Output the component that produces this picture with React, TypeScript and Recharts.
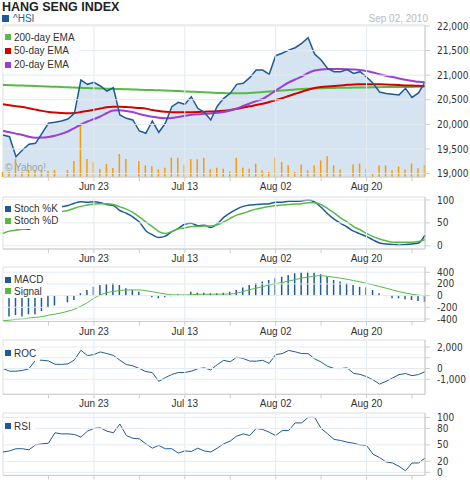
import React from 'react';
import { ComposedChart, Line, Area, Bar, XAxis, YAxis, ReferenceLine, ReferenceArea } from 'recharts';

const dates = ['Jun 03','Jun 04','Jun 07','Jun 08','Jun 09','Jun 10','Jun 11','Jun 14','Jun 15','Jun 16','Jun 17','Jun 18','Jun 21','Jun 22','Jun 23','Jun 24','Jun 25','Jun 28','Jun 29','Jun 30','Jul 01','Jul 02','Jul 05','Jul 06','Jul 07','Jul 08','Jul 09','Jul 12','Jul 13','Jul 14','Jul 15','Jul 16','Jul 19','Jul 20','Jul 21','Jul 22','Jul 23','Jul 26','Jul 27','Jul 28','Jul 29','Jul 30','Aug 02','Aug 03','Aug 04','Aug 05','Aug 06','Aug 09','Aug 10','Aug 11','Aug 12','Aug 13','Aug 16','Aug 17','Aug 18','Aug 19','Aug 20','Aug 23','Aug 24','Aug 25','Aug 26','Aug 27','Aug 30','Aug 31','Sep 01','Sep 02'];

const close = [19784, 19750, 19343, 19479, 19595, 19615, 19818, 20022, 20042, 20068,
  20109, 20225, 20902, 20814, 20855, 20780, 20678, 20745, 20190, 20123,
  20089, 19865, 19818, 20068, 19839, 20022, 20359, 20449, 20408, 20562,
  20327, 20245, 20089, 20370, 20530, 20631, 20814, 20835, 20949, 21105,
  21105, 21018, 21396, 21445, 21510, 21558, 21648, 21762, 21430, 21308,
  21136, 21071, 21071, 21115, 21034, 21071, 20963, 20835, 20658, 20629,
  20613, 20599, 20733, 20548, 20638, 20861];

const ema200 = [20800, 20796, 20792, 20788, 20784, 20780, 20774, 20770, 20764, 20760,
  20753, 20749, 20743, 20739, 20733, 20729, 20725, 20721, 20717, 20713,
  20709, 20705, 20701, 20697, 20692, 20688, 20682, 20676, 20670, 20664,
  20658, 20652, 20646, 20640, 20636, 20631, 20631, 20633, 20638, 20646,
  20656, 20666, 20676, 20688, 20699, 20709, 20719, 20725, 20731, 20735,
  20739, 20741, 20743, 20745, 20747, 20749, 20751, 20753, 20756, 20758,
  20760, 20760, 20762, 20762, 20764, 20764];

const ema50 = [20408, 20390, 20371, 20353, 20327, 20300, 20274, 20251, 20239, 20231,
  20227, 20231, 20251, 20272, 20296, 20322, 20347, 20357, 20359, 20353,
  20343, 20333, 20320, 20292, 20272, 20257, 20247, 20245, 20245, 20247,
  20251, 20257, 20261, 20265, 20276, 20292, 20316, 20343, 20367, 20394,
  20418, 20455, 20495, 20532, 20577, 20621, 20664, 20703, 20739, 20760,
  20772, 20780, 20790, 20804, 20812, 20814, 20816, 20816, 20814, 20810,
  20804, 20798, 20792, 20788, 20784, 20780];

const ema20 = [19865, 19839, 19812, 19784, 19747, 19729, 19731, 19743, 19767, 19808,
  19855, 19926, 19997, 20058, 20109, 20160, 20231, 20282, 20288, 20272,
  20251, 20211, 20180, 20154, 20133, 20123, 20129, 20150, 20174, 20194,
  20207, 20215, 20223, 20235, 20251, 20282, 20322, 20373, 20424, 20475,
  20516, 20597, 20688, 20770, 20851, 20912, 20969, 21044, 21095, 21115,
  21126, 21126, 21126, 21121, 21115, 21105, 21085, 21054, 21018, 20987,
  20963, 20932, 20906, 20886, 20865, 20855];

const volume = [500, 500, 1800, 500, 700, 700, 700, 600, 700, null,
  700, 1600, 5100, 1800, 1500, 800, 1300, 900, 2300, 1800,
  null, 1600, 1170, 1070, 770, 930, 1930, 1930, 1230, 1770,
  1770, 1930, 770, 930, 830, 550, 1930, 930, 830, 1330,
  670, 500, 1930, 1500, 1170, 500, 1250, 670, 1170, 1650,
  2070, 1170, 750, null, 1250, 1350, 830, 400, 1170, 1170,
  670, 1050, 750, 1350, 870, 1200];

const stochK = [38, 40, 38, 37, 36, 50, 62, 72, 80, 85,
  88, 93, 96, 95, 96, 94, 90, 88, 77, 71,
  63, 52, 33, 24, 18, 21, 31, 38, 47, 49,
  44, 45, 40, 48, 62, 72, 80, 86, 89, 90,
  91, 92, 95, 95, 97, 97, 98, 100, 96, 84,
  70, 58, 49, 41, 32, 26, 20, 13, 6, 4,
  3, 1, 3, 4, 6, 23];

const stochD = [27, 32, 34, 36, 38, 41, 48, 57, 66, 74,
  77, 82, 86, 89, 91, 92, 92, 90, 85, 80,
  73, 63, 52, 42, 31, 27, 31, 37, 39, 42,
  42, 43, 43, 46, 52, 60, 67, 71, 76, 80,
  83, 86, 88, 89, 90, 91, 92, 94, 94, 90,
  81, 72, 61, 52, 42, 35, 27, 20, 15, 11,
  8, 8, 8, 8, 9.5, 13];

const macd = [null, -359, -330, -359, -318, -318, -262, -205, -171, null,
  -113, -73, 41, 97, 154, 183, 200, 212, 183, 126,
  97, 68, 10, -28, -45, -28, -10, 23, 23, 68,
  51, 51, 40, 40, 51, 68, 97, 137, 183, 212,
  240, 268, 297, 325, 354, 382, 400, 410, 400, 365,
  325, 268, 240, 212, 183, 154, 137, 97, 40, 5,
  -45, -45, -63, -74, -91, -103];

const signal = [-432, -420, -408, -398, -385, -372, -360, -335, -318, -295,
  -268, -232, -180, -120, -45, 12, 51, 72, 88, 97,
  98, 97, 85, 68, 45, 28, 14, 11, 11, 15,
  22, 24, 24, 25, 26, 28, 42, 72, 100, 128,
  154, 183, 205, 222, 250, 275, 300, 318, 335, 342,
  330, 315, 298, 280, 258, 235, 212, 185, 155, 128,
  97, 68, 45, 23, 8, -5];

const roc = [0, -250, -250, -180, -20, 770, 770, 700, 400, 380,
  430, 800, 1700, 1200, 1300, 1540, 1390, 1220, 770, 370,
  250, 0, -290, -380, -1200, -850, -560, -370, -370, -250,
  -20, 60, -140, 360, 760, 620, 1050, 930, 690, 680,
  760, 480, 1300, 1380, 1680, 1550, 1390, 1380, 900, 600,
  200, 0, -10, 60, -450, -550, -760, -1050, -1450, -1200,
  -880, -570, -470, -670, -560, -300];

const rsi = [37, 39, 43, 43, 41, 50, 52, 53, 72, 70,
  70, 69, 64, 75, 80, 81, 75, 72, 88, 67,
  62, 61, 52, 44, 49, 43, 43, 35, 39, 38,
  44, 39, 37, 44, 52, 57, 66, 70, 67, 80,
  78, 73, 67, 76, 76, 90, 90, 100, 100, 80,
  70, 60, 58, 55, 53, 50, 49, 33, 27, 19,
  17, 11, 3, 17, 17, 26];

const priceTicks = [19000, 19500, 20000, 20500, 21000, 21500, 22000];
const stochTicks = [0, 50, 100];
const macdTicks = [-400, -200, 0, 200, 400];
const rocTicks = [-1000, 0, 1000, 2000];
const rocLabelTicks = [-1000, 0, 2000];
const rsiTicks = [0, 20, 50, 80, 100];
const xTicks = [7, 14, 21, 28, 35, 42, 49, 56, 63];
const xLabelTicks = [14, 28, 42, 56];

const priceDomain = [18930, 22020];
const volDomain = [0, 15200];
const stochDomain = [-7, 106.5];
const macdDomain = [-443, 490];
const rocDomain = [-2400, 2650];
const rsiDomain = [-5.5, 108];

const FONT = 'Arial, "Liberation Sans", Helvetica, sans-serif';
const NARROW = '"Liberation Sans Narrow", "Arial Narrow", "DejaVu Sans Condensed", Arial, "Liberation Sans", sans-serif';
const BLUE = '#1f5a96';
const GREEN = '#55bb44';
const RED = '#d40000';
const PURPLE = '#9b40d0';
const GRID = '#e4ebf2';
const AXIS = '#cccccc';

const data = dates.map((date, i) => ({
  i, date,
  close: close[i], ema200: ema200[i], ema50: ema50[i], ema20: ema20[i], vol: volume[i],
  k: stochK[i], d: stochD[i], macd: macd[i], signal: signal[i], roc: roc[i], rsi: rsi[i],
}));

const fmtNum = (v: number) => v.toLocaleString('en-US');

function Panel({ top, plotH, domain, ticks, labelTicks, children, extraAxes, showXLabels = true }: any) {
  const H = 6 + plotH + 16;
  const lt = labelTicks || ticks;
  return (
    <div style={{ position: 'absolute', left: 0, top: top - 6 }}>
      <ComposedChart width={470} height={H} data={data} margin={{ top: 6, right: 3, bottom: 0, left: 3 }}>
        <XAxis
          dataKey="i" type="number" domain={[0, dates.length - 1]} ticks={xTicks} interval={0}
          tickFormatter={(v: number) => (showXLabels && xLabelTicks.includes(v) ? dates[v] : '')}
          tick={{ fontSize: 10, fill: '#333', fontFamily: FONT }}
          tickLine={{ stroke: AXIS }} tickSize={4} tickMargin={2}
          axisLine={{ stroke: AXIS }} height={16}
        />
        <YAxis
          orientation="right" width={42} type="number" domain={domain} ticks={ticks} interval={0}
          allowDataOverflow
          tickFormatter={(v: number) => (lt.includes(v) ? fmtNum(v) : '')}
          tick={{ fontSize: 10, fill: '#333', fontFamily: NARROW }}
          tickLine={{ stroke: AXIS }} tickSize={5} tickMargin={7}
          axisLine={{ stroke: AXIS }}
        />
        {extraAxes}
        <ReferenceArea x1={0} x2={dates.length - 1} y1={domain[0]} y2={domain[1]} fill="none" fillOpacity={0} stroke="#dddddd" ifOverflow="visible" />
        {children}
        {ticks.map((t: number) => <ReferenceLine key={'h' + t} y={t} stroke={GRID} />)}
        {xLabelTicks.map((t: number) => <ReferenceLine key={'v' + t} x={t} stroke={GRID} />)}
      </ComposedChart>
    </div>
  );
}

function LegendBox({ left, top, rowH, items, pad }: any) {
  return (
    <div style={{ position: 'absolute', left, top, background: '#fff', padding: pad || '1px 4px 1px 2px', fontFamily: FONT, fontSize: 10, color: '#333', lineHeight: rowH + 'px', whiteSpace: 'nowrap' }}>
      {items.map((it: any) => (
        <div key={it.label} style={{ display: 'flex', alignItems: 'center', height: rowH }}>
          <span style={{ width: 6, height: 6, background: it.color, marginRight: 3, display: 'inline-block' }} />
          <span>{it.label}</span>
        </div>
      ))}
    </div>
  );
}

export default function App() {
  return (
    <div style={{ position: 'absolute', left: 0, top: 0, width: 470, height: 480, overflow: 'hidden', background: '#fff', fontFamily: FONT }}>
      <Panel top={25} plotH={152} domain={priceDomain} ticks={priceTicks}
        extraAxes={<YAxis yAxisId="vol" hide domain={volDomain} />}>
        <Area dataKey="close" type="linear" stroke="none" fill="#d5e4f0" fillOpacity={1} isAnimationActive={false} />
        <Bar yAxisId="vol" dataKey="vol" fill="#ff9900" barSize={1.5} isAnimationActive={false} />
        <Line dataKey="ema200" type="monotone" stroke={GREEN} strokeWidth={2} dot={false} activeDot={false} isAnimationActive={false} />
        <Line dataKey="ema50" type="monotone" stroke={RED} strokeWidth={2} dot={false} activeDot={false} isAnimationActive={false} />
        <Line dataKey="ema20" type="monotone" stroke={PURPLE} strokeWidth={2} dot={false} activeDot={false} isAnimationActive={false} />
        <Line dataKey="close" type="linear" stroke={BLUE} strokeWidth={1.5} dot={false} activeDot={false} isAnimationActive={false} />
      </Panel>
      <Panel top={197} plotH={52} domain={stochDomain} ticks={stochTicks}>
        <Line dataKey="k" type="monotone" stroke={BLUE} strokeWidth={1.5} dot={false} activeDot={false} isAnimationActive={false} />
        <Line dataKey="d" type="monotone" stroke={GREEN} strokeWidth={1.5} dot={false} activeDot={false} isAnimationActive={false} />
      </Panel>
      <Panel top={267} plotH={54.5} domain={macdDomain} ticks={macdTicks}>
        <Bar dataKey="macd" fill={BLUE} barSize={1.5} isAnimationActive={false} />
        <Line dataKey="signal" type="monotone" stroke={GREEN} strokeWidth={1} dot={false} activeDot={false} isAnimationActive={false} />
      </Panel>
      <Panel top={340} plotH={54.3} domain={rocDomain} ticks={rocTicks} labelTicks={rocLabelTicks}>
        <Line dataKey="roc" type="linear" stroke={BLUE} strokeWidth={1} dot={false} activeDot={false} isAnimationActive={false} />
      </Panel>
      <Panel top={413.3} plotH={62.4} domain={rsiDomain} ticks={rsiTicks} showXLabels={false}>
        <Line dataKey="rsi" type="linear" stroke={BLUE} strokeWidth={1} dot={false} activeDot={false} isAnimationActive={false} />
      </Panel>

      <div style={{ position: 'absolute', left: 2, top: 0, fontSize: 12.5, fontWeight: 'bold', color: '#222', lineHeight: '14px', whiteSpace: 'nowrap' }}>HANG SENG INDEX</div>
      <div style={{ position: 'absolute', left: 2, top: 12, display: 'flex', alignItems: 'center', height: 13, fontSize: 10, color: '#2a5d9a', whiteSpace: 'nowrap' }}>
        <span style={{ width: 7, height: 7, background: BLUE, marginRight: 4, display: 'inline-block' }} />
        <span>^HSI</span>
      </div>
      <div style={{ position: 'absolute', right: 42, top: 12, fontSize: 10, color: '#bbbbbb', lineHeight: '13px', whiteSpace: 'nowrap' }}>Sep 02, 2010</div>

      <LegendBox left={3} top={29.5} rowH={13.75} items={[{ label: '200-day EMA', color: GREEN }, { label: '50-day EMA', color: RED }, { label: '20-day EMA', color: PURPLE }]} />
      <LegendBox left={3} top={200} rowH={12.5} pad="2.5px 4px 1px 2px" items={[{ label: 'Stoch %K', color: BLUE }, { label: 'Stoch %D', color: GREEN }]} />
      <LegendBox left={3} top={273} rowH={11.5} items={[{ label: 'MACD', color: BLUE }, { label: 'Signal', color: GREEN }]} />
      <LegendBox left={3} top={345.5} rowH={13} items={[{ label: 'ROC', color: BLUE }]} />
      <LegendBox left={3} top={418.5} rowH={13} items={[{ label: 'RSI', color: BLUE }]} />

      <div style={{ position: 'absolute', left: 5, top: 162, fontSize: 10, color: '#a0a0a0', lineHeight: '12px', whiteSpace: 'nowrap' }}>© Yahoo!</div>
    </div>
  );
}
